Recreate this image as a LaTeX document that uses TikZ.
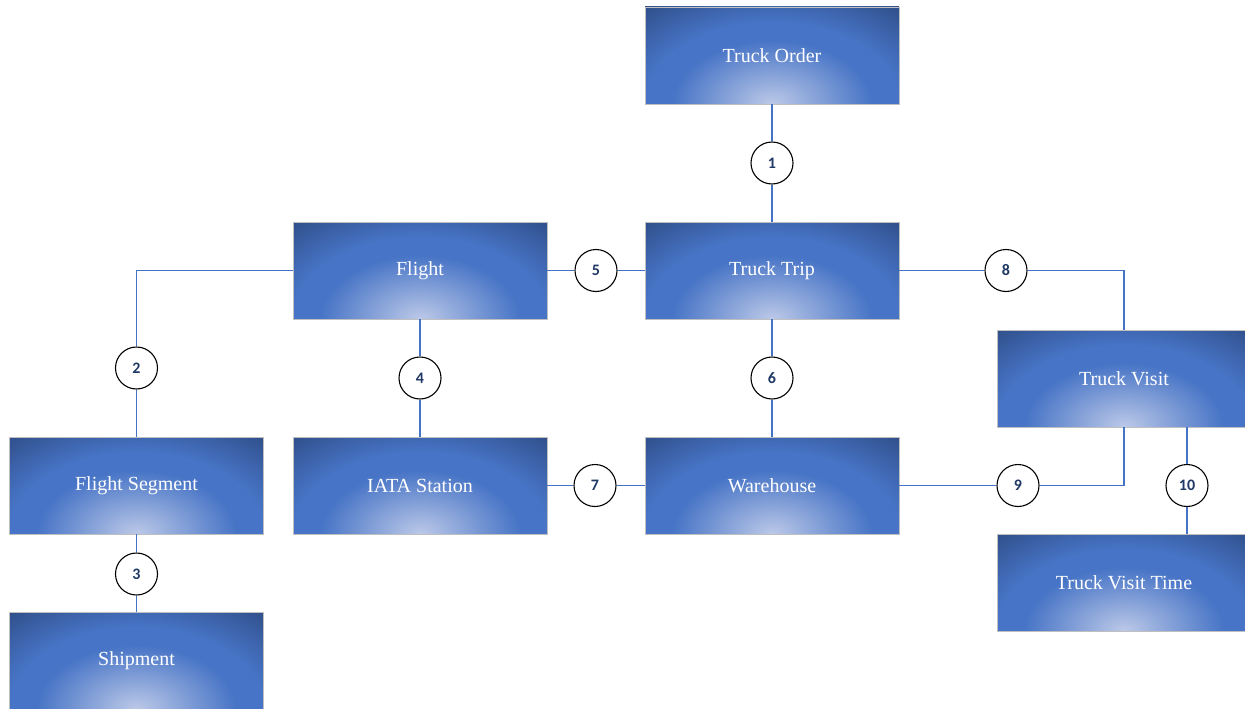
\documentclass[tikz,border=0pt]{standalone}
\usepackage{fontspec}
\setmainfont{Liberation Serif}
\newfontfamily\numfont{Carlito}
\definecolor{boxlight}{HTML}{BCC9E8}
\definecolor{boxmid}{HTML}{4774C6}
\definecolor{boxdark}{HTML}{2D4A82}
\definecolor{linkblue}{HTML}{4472C4}
\definecolor{numnavy}{HTML}{1F3864}
\pgfdeclareradialshading{boxglow}{\pgfpointorigin}{color(0bp)=(boxlight); color(12.5bp)=(boxmid); color(16bp)=(boxmid); color(26bp)=(boxdark); color(50bp)=(boxdark)}

\begin{document}
\begin{tikzpicture}[x=1pt,y=-1pt,
    entity/.style = {shape=rectangle, fill=boxdark, draw=black!25,
        line width=0.8pt, minimum width=254pt, minimum height=97pt,
        path picture={\shade[shading=boxglow] (path picture bounding box.south)
            ellipse [x radius=200pt, y radius=128pt];},
        text=white, font=\fontsize{20}{24}\selectfont},
    num/.style = {shape=circle, draw=black, fill=white, line width=1.1pt,
        minimum size=42pt, inner sep=0pt, text=numnavy,
        font=\numfont\bfseries\fontsize{16}{18}\selectfont},
    link/.style = {draw=linkblue, line width=1.2pt}]
    \clip (0,0) rectangle (1245,709);
    \useasboundingbox (0,0) rectangle (1245,709);
    % boxes
    \node[entity] (to) at (772, 55.5) {Truck Order};
    \node[entity] (tt) at (772, 270.5) {Truck Trip};
    \node[entity] (fl) at (420, 270.5) {Flight};
    \node[entity] (fs) at (136.5, 485.5) {Flight Segment};
    \node[entity] (ia) at (420, 485.5) {IATA Station};
    \node[entity] (wh) at (772, 485.5) {Warehouse};
    \node[entity] (tv) at (1124, 378.5) {Truck Visit};
    \node[entity] (tvt) at (1124, 582.5) {Truck Visit Time};
    \node[entity] (sh) at (136.5, 660.5) {Shipment};
    % relation numbers
    \node[num] (c1) at (772, 163) {1};
    \node[num] (c2) at (136.5, 368) {2};
    \node[num] (c3) at (136.5, 574) {3};
    \node[num] (c4) at (420, 378) {4};
    \node[num] (c5) at (596, 270.5) {5};
    \node[num] (c6) at (772, 378) {6};
    \node[num] (c7) at (595, 485.5) {7};
    \node[num] (c8) at (1006, 270.5) {8};
    \node[num] (c9) at (1018, 485.5) {9};
    \node[num] (c10) at (1187, 485.5) {10};
    % connectors
    \draw[link] (to) -- (c1) -- (tt);
    \draw[link] (fl) -| (c2) -- (fs);
    \draw[link] (fs) -- (c3) -- (sh);
    \draw[link] (fl) -- (c4) -- (ia);
    \draw[link] (fl) -- (c5) -- (tt);
    \draw[link] (tt) -- (c6) -- (wh);
    \draw[link] (ia) -- (c7) -- (wh);
    \draw[link] (tt) -- (c8) -| (tv);
    \draw[link] (wh) -- (c9) -| (tv);
    \draw[link] (tv.south -| c10) -- (c10) -- (tvt.north -| c10);
\end{tikzpicture}
\end{document}
